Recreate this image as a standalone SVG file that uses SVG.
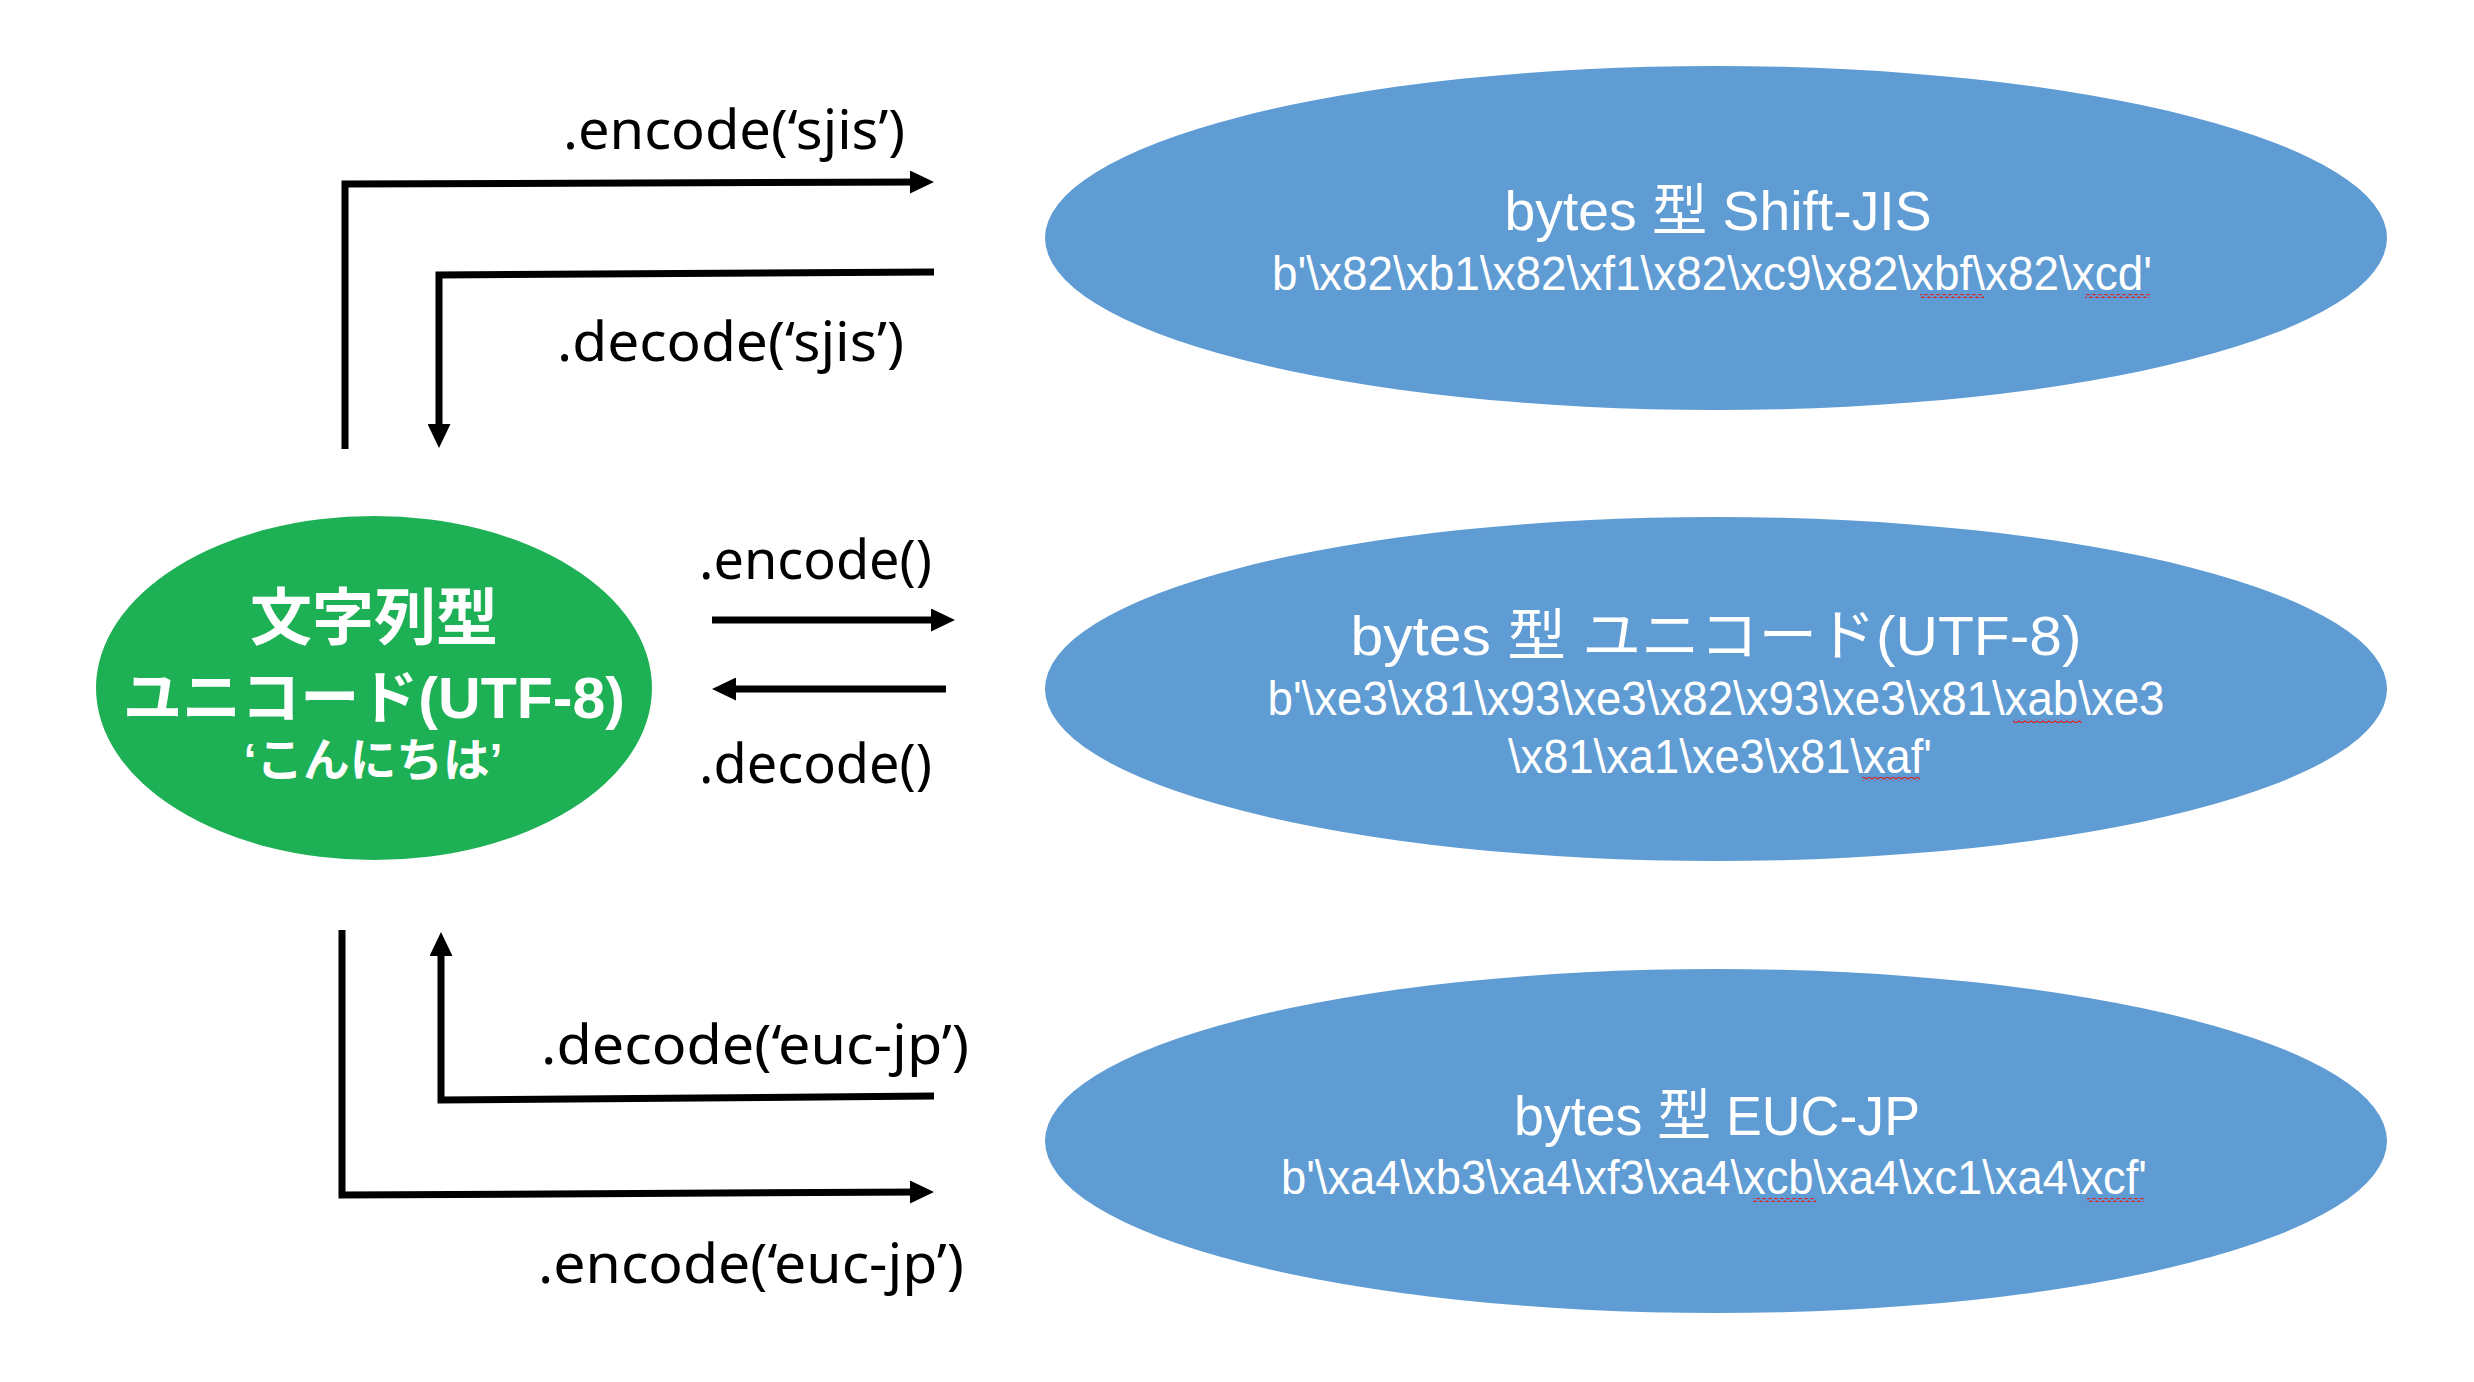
<svg xmlns="http://www.w3.org/2000/svg" width="2474" height="1382" viewBox="0 0 2474 1382">
<style>
.bg{fill:#ffffff}
.green{fill:#1DB054}
.blue{fill:#5F9CD3}
.conn{fill:none;stroke:#000;stroke-width:7;stroke-linejoin:miter}
.lbl{font-family:"Noto Sans","Liberation Sans","Noto Sans CJK JP",sans-serif;font-size:54px;fill:#000}
.gt{font-family:"Liberation Sans","Noto Sans CJK JP",sans-serif;font-weight:bold;fill:#fff;text-anchor:middle}
.bt{font-family:"Liberation Sans","Noto Sans CJK JP",sans-serif;fill:#fff;text-anchor:middle}
.h{font-size:56px}
.s{font-size:48px}
</style>
<defs>
<marker id="ah" markerUnits="userSpaceOnUse" markerWidth="24" markerHeight="23" refX="14" refY="11.5" orient="auto">
<path d="M0,0 L24,11.5 L0,23 z" fill="#000"/>
</marker>
<pattern id="sq" width="6" height="4" patternUnits="userSpaceOnUse">
<path d="M0,3 L3,1 L6,3" stroke="#e02020" stroke-width="1.2" fill="none"/>
</pattern>
</defs>
<rect class="bg" x="0" y="0" width="2474" height="1382"/>

<g id="connectors">
<path class="conn" d="M345,449 L345,184 L924,182" marker-end="url(#ah)"/>
<path class="conn" d="M934,272 L439,275 L439,438" marker-end="url(#ah)"/>
<path class="conn" d="M712,620 L945,620" marker-end="url(#ah)"/>
<path class="conn" d="M946,689 L722,689" marker-end="url(#ah)"/>
<path class="conn" d="M934,1096 L441,1100 L441,942" marker-end="url(#ah)"/>
<path class="conn" d="M342,930 L342,1195 L924,1192" marker-end="url(#ah)"/>
<text class="lbl" x="563" y="149" textLength="342" lengthAdjust="spacingAndGlyphs">.encode(‘sjis’)</text>
<text class="lbl" x="557" y="361" textLength="347" lengthAdjust="spacingAndGlyphs">.decode(‘sjis’)</text>
<text class="lbl" x="699" y="579" textLength="233" lengthAdjust="spacingAndGlyphs">.encode()</text>
<text class="lbl" x="699" y="783" textLength="233" lengthAdjust="spacingAndGlyphs">.decode()</text>
<text class="lbl" x="541" y="1064" textLength="428" lengthAdjust="spacingAndGlyphs">.decode(‘euc-jp’)</text>
<text class="lbl" x="538" y="1283" textLength="426" lengthAdjust="spacingAndGlyphs">.encode(‘euc-jp’)</text>
</g>

<g id="str-unicode">
<ellipse class="green" cx="374" cy="688" rx="278" ry="172"/>
<text class="gt" x="374" y="640" font-size="62" textLength="248" lengthAdjust="spacingAndGlyphs">文字列型</text>
<text class="gt" x="374" y="718" font-size="58" textLength="502" lengthAdjust="spacingAndGlyphs">ユニコード(UTF-8)</text>
<text class="gt" x="373" y="776" font-size="46" font-weight="500" textLength="259" lengthAdjust="spacingAndGlyphs">‘こんにちは’</text>
</g>

<g id="bytes-sjis">
<ellipse class="blue" cx="1716" cy="238" rx="671" ry="172"/>
<text class="bt h" x="1718" y="230" textLength="427" lengthAdjust="spacingAndGlyphs">bytes 型 Shift-JIS</text>
<text class="bt s" x="1712" y="290" textLength="880" lengthAdjust="spacingAndGlyphs">b'\x82\xb1\x82\xf1\x82\xc9\x82\xbf\x82\xcd'</text>
</g>

<g id="bytes-utf8">
<ellipse class="blue" cx="1716" cy="689" rx="671" ry="172"/>
<text class="bt h" x="1716" y="655" textLength="731" lengthAdjust="spacingAndGlyphs">bytes 型 ユニコード(UTF-8)</text>
<text class="bt s" x="1716" y="715" textLength="897" lengthAdjust="spacingAndGlyphs">b'\xe3\x81\x93\xe3\x82\x93\xe3\x81\xab\xe3</text>
<text class="bt s" x="1720" y="773" textLength="424" lengthAdjust="spacingAndGlyphs">\x81\xa1\xe3\x81\xaf'</text>
</g>

<g id="bytes-eucjp">
<ellipse class="blue" cx="1716" cy="1141" rx="671" ry="172"/>
<text class="bt h" x="1717" y="1135" textLength="406" lengthAdjust="spacingAndGlyphs">bytes 型 EUC-JP</text>
<text class="bt s" x="1714" y="1194" textLength="866" lengthAdjust="spacingAndGlyphs">b'\xa4\xb3\xa4\xf3\xa4\xcb\xa4\xc1\xa4\xcf'</text>
</g>

<g id="spellcheck">
<rect x="1920" y="294" width="64" height="4" fill="url(#sq)"/>
<rect x="2085" y="294" width="65" height="4" fill="url(#sq)"/>
<rect x="2013" y="719" width="69" height="4" fill="url(#sq)"/>
<rect x="1862" y="777" width="58" height="4" fill="url(#sq)"/>
<rect x="1753" y="1198" width="63" height="4" fill="url(#sq)"/>
<rect x="2087" y="1198" width="57" height="4" fill="url(#sq)"/>
</g>
</svg>
